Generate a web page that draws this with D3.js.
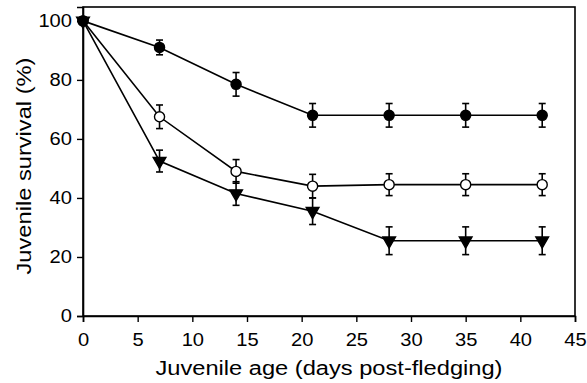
<!DOCTYPE html>
<html>
<head>
<meta charset="utf-8">
<script src="https://cdn.jsdelivr.net/npm/d3@7"></script>
<style>
  body { margin: 0; background: #fff; }
  text { font-family: "Liberation Sans", Arial, sans-serif; fill: #000; }
</style>
</head>
<body>
<svg id="chart" width="587" height="383"></svg>
<script>
// days post-fledging
const days = [0, 7, 14, 21, 28, 35, 42];

// survival (%) and standard errors per group
const filledVals = [100, 91, 78.5, 68, 68, 68, 68];
const filledErr  = [0, 2.5, 4, 4, 4, 4, 4];
const openVals   = [100, 67.5, 49, 44, 44.5, 44.5, 44.5];
const openErr    = [0, 4, 4, 4, 3.7, 3.7, 3.7];
const triVals    = [100, 52.5, 41.5, 35.5, 25.5, 25.5, 25.5];
const triErr     = [0, 3.7, 4, 4.5, 4.7, 4.7, 4.7];

const xTicks = [0, 5, 10, 15, 20, 25, 30, 35, 40, 45];
const yTicks = [0, 20, 40, 60, 80, 100];

const margin = {left: 83, right: 12, top: 7, bottom: 67};
const W = 587, H = 383;
const svg = d3.select("#chart");

const x = d3.scaleLinear().domain([0, 45]).range([margin.left, W - margin.right]);
const y = d3.scaleLinear().domain([0, 104.7]).range([H - margin.bottom, margin.top]);

// frame
svg.append("rect")
    .attr("x", x(0)).attr("y", y(104.7))
    .attr("width", x(45) - x(0)).attr("height", y(0) - y(104.7))
    .attr("fill", "none").attr("stroke", "#000").attr("stroke-width", 1.6);

const xAxis = svg.append("g")
    .attr("transform", `translate(0,${y(0)})`)
    .call(d3.axisBottom(x).tickValues(xTicks).tickSize(6).tickPadding(11));
const yAxis = svg.append("g")
    .attr("transform", `translate(${x(0)},0)`)
    .call(d3.axisLeft(y).tickValues(yTicks).tickSize(6).tickPadding(5));

[xAxis, yAxis].forEach(g => {
    g.select(".domain").attr("stroke-width", 1.6);
    g.selectAll(".tick line").attr("stroke-width", 1.4);
    g.selectAll("text").style("font-size", "18px").attr("fill", "#000")
        .attr("textLength", function() { return this.textContent.length * 11.2; })
        .attr("lengthAdjust", "spacingAndGlyphs");
});

svg.append("text")
    .attr("x", (x(0) + x(45)) / 2).attr("y", 375)
    .attr("text-anchor", "middle").style("font-size", "20px")
    .attr("textLength", 347).attr("lengthAdjust", "spacingAndGlyphs")
    .text("Juvenile age (days post-fledging)");

svg.append("text")
    .attr("transform", `translate(31,166) rotate(-90)`)
    .attr("text-anchor", "middle").style("font-size", "20px")
    .attr("textLength", 217).attr("lengthAdjust", "spacingAndGlyphs")
    .text("Juvenile survival (%)");

const line = d3.line().x(d => x(d[0])).y(d => y(d[1]));

function drawSeries(vals, errs, marker, fill) {
    const pts = days.map((d, i) => [d, vals[i], errs[i]]);
    svg.append("path").attr("d", line(pts))
        .attr("fill", "none").attr("stroke", "#000").attr("stroke-width", 1.6);

    const eb = svg.append("g").attr("stroke", "#000").attr("stroke-width", 1.6);
    pts.filter(p => p[2] > 0).forEach(p => {
        const cx = x(p[0]), y1 = y(p[1] + p[2]), y2 = y(p[1] - p[2]);
        eb.append("line").attr("x1", cx).attr("x2", cx).attr("y1", y1).attr("y2", y2);
        eb.append("line").attr("x1", cx - 3.5).attr("x2", cx + 3.5).attr("y1", y1).attr("y2", y1);
        eb.append("line").attr("x1", cx - 3.5).attr("x2", cx + 3.5).attr("y1", y2).attr("y2", y2);
    });

    const sym = d3.symbol().type(marker === "tri" ? d3.symbolTriangle : d3.symbolCircle)
        .size(marker === "tri" ? 70 : 80);
    svg.append("g").selectAll("path").data(pts).join("path")
        .attr("d", sym)
        .attr("transform", d => `translate(${x(d[0])},${y(d[1])})` + (marker === "tri" ? " rotate(180)" : ""))
        .attr("fill", fill).attr("stroke", "#000").attr("stroke-width", 1.4);
}

drawSeries(triVals, triErr, "tri", "#000");
drawSeries(openVals, openErr, "circle", "#fff");
drawSeries(filledVals, filledErr, "circle", "#000");
</script>
</body>
</html>
